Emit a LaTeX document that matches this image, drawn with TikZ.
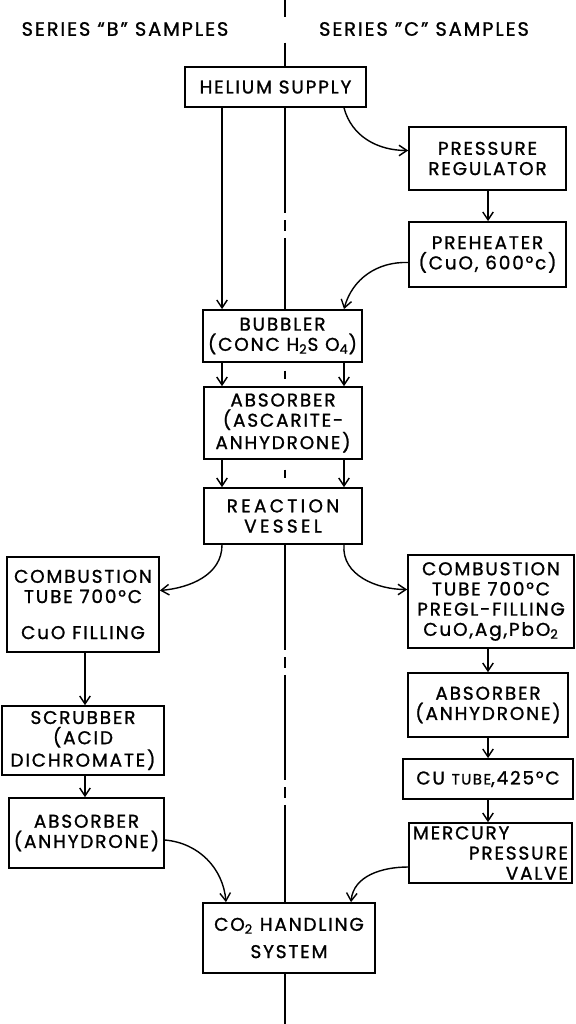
\documentclass[tikz,border=0pt]{standalone}
\usepackage{fontspec}
\setmainfont{Poppins}[LetterSpace=10.0, FakeBold=1.2]
\usetikzlibrary{arrows.meta, calc}

\begin{document}
\begin{tikzpicture}[
  x=0.02cm, y=-0.02cm,
  box/.style={draw, line width=1pt, align=center, inner sep=1pt, font=\fontsize{10.5}{11.5}\selectfont},
  title/.style={font=\fontsize{11}{12}\selectfont},
  flow/.style={-{Straight Barb[length=4.5pt,width=6pt]}, line width=0.8pt},
  axis/.style={line width=0.8pt, dash pattern=on 60pt off 4pt on 6pt off 4pt},
]
\useasboundingbox (0,0) rectangle (575,1024);

\coordinate (axtop) at (285,0);
\coordinate (axbot) at (285,1024);
\coordinate (laneL) at (222,0);
\coordinate (laneR) at (344,0);
\coordinate (laneA) at (85,0);
\coordinate (laneB) at (488,0);

\node[title] (titleB) at (125,29) {SERIES “B” SAMPLES};
\node[title] (titleC) at (424,29) {SERIES ”C” SAMPLES};

\node[box, minimum width=3.62cm, minimum height=0.80cm] (helium)    at (275.5,87)  {HELIUM SUPPLY};
\node[box, minimum width=3.14cm, minimum height=1.26cm] (regulator) at (487.5,158.5) {PRESSURE\\REGULATOR};
\node[box, minimum width=3.14cm, minimum height=1.30cm] (preheater) at (487.5,254.5) {PREHEATER\\(CuO, 600°c)};
\node[box, minimum width=3.18cm, minimum height=1.04cm] (bubbler)   at (282.5,336) {BUBBLER\\(CONC H\textsubscript{2}S O\textsubscript{4})};
\node[box, minimum width=3.16cm, minimum height=1.44cm] (absorber)  at (283,423)   {ABSORBER\\(ASCARITE-\\ANHYDRONE)};
\node[box, minimum width=3.16cm, minimum height=1.12cm] (reaction)  at (283,516)   {\addfontfeature{LetterSpace=18}REACTION\\\addfontfeature{LetterSpace=18}VESSEL};

\node[box, minimum width=3.04cm, minimum height=1.90cm] (combL)     at (83,604.5)  {COMBUSTION\\TUBE 700°C\\[9pt]CuO FILLING};
\node[box, minimum width=3.24cm, minimum height=1.38cm] (scrubber)  at (83,740.5)  {SCRUBBER\\(ACID\\DICHROMATE)};
\node[box, minimum width=3.10cm, minimum height=1.40cm] (absorberL) at (86.5,833)  {ABSORBER\\(ANHYDRONE)};

\node[box, minimum width=3.32cm, minimum height=1.86cm] (combR)     at (491,601.5) {COMBUSTION\\TUBE 700°C\\PREGL-FILLING\\CuO,Ag,PbO\textsubscript{2}};
\node[box, minimum width=3.20cm, minimum height=1.28cm] (absorberR) at (488,705)   {ABSORBER\\(ANHYDRONE)};
\node[box, minimum width=3.40cm, minimum height=0.80cm] (cutube)    at (488,779)   {CU {\fontsize{8.5}{10}\selectfont TUBE},425°C};
\node[box, minimum width=3.26cm, minimum height=1.20cm, align=left, text width=3.1cm] (mercury) at (490.5,853) {MERCURY\\\hfill PRESSURE\\\hfill VALVE};

\node[box, minimum width=3.44cm, minimum height=1.40cm] (handling)  at (289,938)   {CO\textsubscript{2} HANDLING\\[4pt]SYSTEM};

\draw[axis, dash pattern=on 9.6pt off 14.7pt on 30pt] (axtop) -- (helium.north -| axtop);
\draw[axis] (helium.south -| axtop) -- (bubbler.north -| axtop);
\draw[axis] ($(bubbler.south -| axtop)!0.5!(absorber.north -| axtop)$) ++(0,-4) -- ++(0,8);
\draw[axis] ($(absorber.south -| axtop)!0.5!(reaction.north -| axtop)$) ++(0,-4) -- ++(0,8);
\draw[axis] (reaction.south -| axtop) -- (handling.north -| axtop);
\draw[axis] (handling.south -| axtop) -- (axbot);

\draw[flow] (helium.south -| laneL) -- (bubbler.north -| laneL);
\draw[flow] (helium.south -| laneR) to[out=-75, in=180] ($(regulator.west)+(0,-8)$);
\draw[flow] (regulator.south -| laneB) -- (preheater.north -| laneB);
\draw[flow] ($(preheater.west)+(0,8)$) to[out=178, in=75] (bubbler.north -| laneR);
\draw[flow] (bubbler.south -| laneL) -- (absorber.north -| laneL);
\draw[flow] (bubbler.south -| laneR) -- (absorber.north -| laneR);
\draw[flow] (absorber.south -| laneL) -- (reaction.north -| laneL);
\draw[flow] (absorber.south -| laneR) -- (reaction.north -| laneR);
\draw[flow] (reaction.south -| laneL) to[out=-90, in=5] ($(combL.east)+(0,-14)$);
\draw[flow] (reaction.south -| laneR) to[out=-95, in=180] ($(combR.west)+(0,-12)$);
\draw[flow] (combL.south -| laneA) -- (scrubber.north -| laneA);
\draw[flow] (scrubber.south -| laneA) -- (absorberL.north -| laneA);
\draw[flow] (combR.south -| laneB) -- (absorberR.north -| laneB);
\draw[flow] (absorberR.south -| laneB) -- (cutube.north -| laneB);
\draw[flow] (cutube.south -| laneB) -- (mercury.north -| laneB);
\draw[flow] ($(absorberL.east)+(0,7)$) to[out=-5, in=95] ($(handling.north)+(-63,0)$);
\draw[flow] ($(mercury.west)+(0,14)$) to[out=180, in=85] ($(handling.north)+(62,0)$);
\end{tikzpicture}
\end{document}
